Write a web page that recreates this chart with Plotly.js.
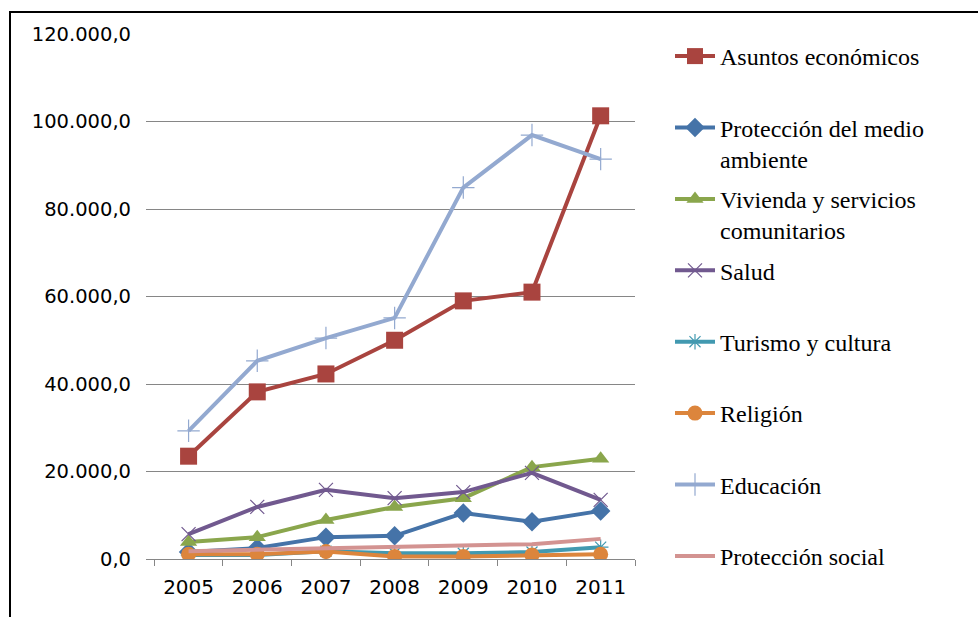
<!DOCTYPE html>
<html>
<head>
<meta charset="utf-8">
<script src="https://cdn.plot.ly/plotly-3.0.1.min.js"></script>
<style>
  html, body { margin: 0; padding: 0; background: #ffffff; }
  #chart { width: 978px; height: 617px; }
</style>
</head>
<body>
<div id="chart"></div>
<script>
// Categories (years)
var years = ["2005", "2006", "2007", "2008", "2009", "2010", "2011"];

// Series values
var asuntosEconomicos   = [23500, 38200, 42300, 50000, 59000, 61000, 101300];
var proteccionAmbiente  = [1600, 2500, 5000, 5300, 10500, 8500, 11000];
var viviendaServicios   = [3900, 5000, 8900, 11900, 13900, 21000, 22900];
var salud               = [5700, 11900, 15800, 13900, 15300, 19700, 13500];
var turismoCultura      = [900, 900, 1800, 1300, 1300, 1600, 2700];
var religion            = [1100, 1100, 1700, 600, 600, 900, 1100];
var educacion           = [29300, 45300, 50500, 55100, 84900, 96900, 91400];
var proteccionSocial    = [1800, 2100, 2400, 2700, 2900, 3400, 4600];

// Legend names
var names = [
  "Asuntos económicos<br> ",
  "Protección del medio<br>ambiente",
  "Vivienda y servicios<br>comunitarios",
  "Salud<br> ",
  "Turismo y cultura<br> ",
  "Religión<br> ",
  "Educación<br> ",
  "Protección social"
];

function series(name, y, color, symbol, size, showMarker) {
  var t = {
    type: "scatter",
    mode: showMarker ? "lines+markers" : "lines",
    x: years,
    y: y,
    name: name,
    legendgroup: name,
    line: { color: color, width: 4 },
    hovertemplate: "%{x}: %{y}<extra></extra>"
  };
  if (showMarker) {
    t.marker = {
      symbol: symbol,
      size: size,
      color: color,
      line: { color: color, width: (symbol.indexOf("open") >= 0 ? 1.2 : 0) }
    };
  }
  return t;
}

var traces = [
  series(names[0], asuntosEconomicos, "#A9443F", "square", 17, true),
  series(names[1], proteccionAmbiente, "#4573A8", "diamond", 15, true),
  series(names[2], viviendaServicios, "#8AA64C", "triangle-up", 15, true),
  series(names[3], salud, "#71598F", "x-thin-open", 14, true),
  series(names[4], turismoCultura, "#4299B0", "asterisk-open", 13, true),
  series(names[5], religion, "#DC853C", "circle", 15, true),
  series(names[6], educacion, "#93A9D0", "cross-thin-open", 16, true),
  series(names[7], proteccionSocial, "#D39391", "circle", 1, false)
];

// plot area pixels: x 146..635, y 34..559
var L = 146, R = 635, T = 34, B = 559, W = 978, H = 617;
var pw = R - L, ph = B - T;
function px2x(p) { return (p - L) / pw; }
function px2y(p) { return (B - p) / ph; }

var layout = {
  width: W,
  height: H,
  margin: { l: L, r: W - R, t: T, b: H - B, pad: 0, autoexpand: false },
  paper_bgcolor: "#ffffff",
  plot_bgcolor: "#ffffff",
  separators: ",.",
  showlegend: true,
  font: { family: "DejaVu Sans", color: "#000000" },
  xaxis: {
    type: "category",
    range: [-0.62, 6.5],
    tickson: "boundaries",
    ticks: "outside",
    ticklen: 6,
    tickcolor: "#868686",
    tickwidth: 1,
    showline: true,
    linecolor: "#868686",
    linewidth: 1,
    showgrid: false,
    zeroline: false,
    tickfont: { family: "DejaVu Sans", size: 20, color: "#000000" },
    ticklabelstandoff: 10
  },
  yaxis: {
    range: [0, 120000],
    dtick: 20000,
    tick0: 0,
    tickformat: ",.1f",
    showgrid: true,
    gridcolor: "#868686",
    gridwidth: 1,
    zeroline: false,
    showline: false,
    ticks: "",
    tickfont: { family: "DejaVu Sans", size: 19.5, color: "#000000" },
    ticklabelstandoff: 14
  },
  legend: {
    x: px2x(670),
    xanchor: "left",
    y: px2y(34),
    yanchor: "top",
    valign: "top",
    maxheight: 600,
    bgcolor: "rgba(0,0,0,0)",
    borderwidth: 0,
    tracegroupgap: 6,
    itemwidth: 40,
    font: { family: "Liberation Serif", size: 24, color: "#000000" }
  },
  shapes: [
    {
      type: "rect",
      xref: "paper", yref: "paper",
      x0: px2x(10), x1: px2x(990),
      y0: px2y(640), y1: px2y(12),
      line: { color: "#000000", width: 2 },
      fillcolor: "rgba(0,0,0,0)",
      layer: "above"
    }
  ]
};

Plotly.newPlot("chart", traces, layout, { displayModeBar: false, staticPlot: true });
</script>
</body>
</html>
